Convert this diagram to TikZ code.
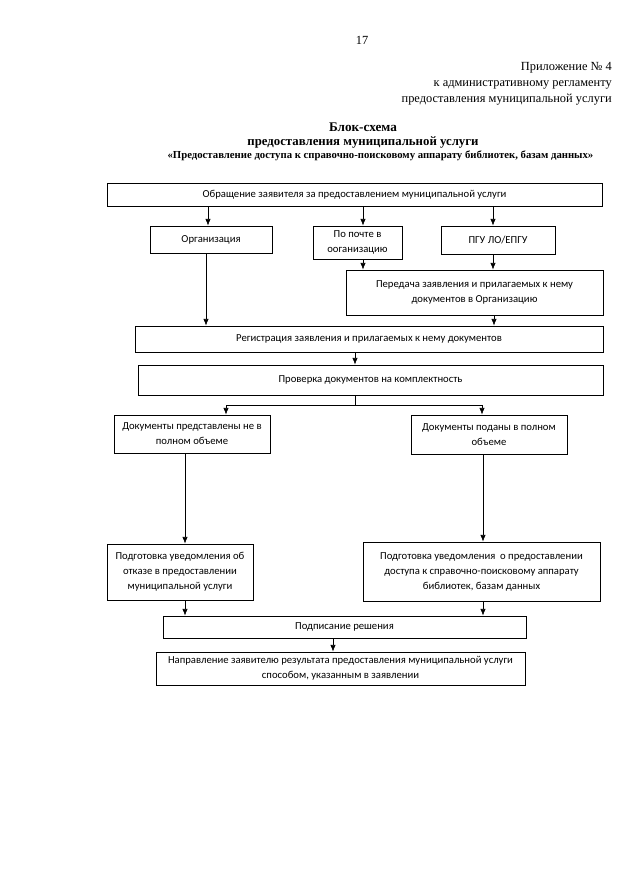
\documentclass[tikz,border=0pt]{standalone}
\usepackage{fontspec}
\setmainfont{Liberation Serif}
\newfontfamily\boxfont{Carlito}
\usetikzlibrary{arrows.meta}
\begin{document}
\begin{tikzpicture}[x=0.75pt,y=-0.75pt,
  bx/.style 2 args={draw=black, line width=0.6pt, inner sep=1pt, minimum width={#1*0.75pt}, minimum height={#2*0.75pt}, align=center, font=\boxfont\fontsize{8}{11.25}\selectfont},
  arr/.style={line width=0.5pt, -{Latex[length=5pt,width=4pt]}},
  ln/.style={line width=0.5pt},
  hdr/.style={font=\fontsize{9.3}{12}\selectfont, inner sep=0pt, anchor=base east}]
\useasboundingbox (0,0) rectangle (640,896);
\node[inner sep=0pt, anchor=base, font=\fontsize{9.3}{12}\selectfont] (pg) at (362,44) {17};
\node[hdr] (h1) at (612,70) {Приложение № 4};
\node[hdr] (h2) at (612,86) {к административному регламенту};
\node[hdr] (h3) at (612,102) {предоставления муниципальной услуги};
\node[inner sep=0pt, anchor=base, font=\bfseries\fontsize{9.9}{12}\selectfont] (t1) at (363,131) {Блок-схема};
\node[inner sep=0pt, anchor=base, font=\bfseries\fontsize{9.6}{12}\selectfont] (t2) at (363,145) {предоставления муниципальной услуги};
\node[inner sep=0pt, anchor=base, font=\bfseries\fontsize{8.05}{10}\selectfont] (t3) at (380.5,158.5) {«Предоставление доступа к справочно-поисковому аппарату библиотек, базам данных»};

\node[bx={495}{23}] (b1) at (354.5,194.5) {Обращение заявителя за предоставлением муниципальной услуги};
\node[bx={122}{27}] (org) at (211,239.5) {Организация};
\node[bx={89}{33}] (pocht) at (357.5,242.5) {По почте в\\ооганизацию};
\node[bx={114}{28}] (pgu) at (498,240) {ПГУ ЛО/ЕПГУ};
\node[bx={257}{45}] (pered) at (474.5,292.5) {Передача заявления и прилагаемых к нему\\документов в Организацию};
\node[bx={468}{26}] (reg) at (369,339) {Регистрация заявления и прилагаемых к нему документов};
\node[bx={465}{30}] (prov) at (370.5,380) {Проверка документов на комплектность};
\node[bx={156}{38}] (docne) at (192,434) {Документы представлены не в\\полном объеме};
\node[bx={156}{39}] (docpod) at (489,434.5) {Документы поданы в полном\\объеме};
\node[bx={146}{56}] (otk) at (180,572) {Подготовка уведомления об\\отказе в предоставлении\\муниципальной услуги};
\node[bx={237}{59}] (dost) at (481.5,571.5) {Подготовка уведомления~ о предоставлении\\доступа к справочно-поисковому аппарату\\библиотек, базам данных};
\node[bx={363}{22}] (podp) at (344.5,627) {Подписание решения};
\node[bx={369}{33}] (napr) at (340.5,668.5) {Направление заявителю результата предоставления муниципальной услуги\\способом, указанным в заявлении};

\coordinate (xa) at (208,0);
\coordinate (xb) at (363,0);
\coordinate (xc) at (493,0);
\coordinate (xd) at (206,0);
\coordinate (xe) at (494,0);
\coordinate (xf) at (355,0);
\coordinate (split) at (355,405);
\coordinate (jl) at (226,0);
\coordinate (jr) at (482,0);
\coordinate (xg) at (185,0);
\coordinate (xh) at (483,0);
\coordinate (xi) at (333,0);

\draw[arr] (b1.south -| xa) -- (org.north -| xa);
\draw[arr] (b1.south -| xb) -- (pocht.north -| xb);
\draw[arr] (b1.south -| xc) -- (pgu.north -| xc);
\draw[arr] (org.south -| xd) -- (reg.north -| xd);
\draw[arr] (pocht.south -| xb) -- (pered.north -| xb);
\draw[arr] (pgu.south -| xc) -- (pered.north -| xc);
\draw[arr] (pered.south -| xe) -- (reg.north -| xe);
\draw[arr] (reg.south -| xf) -- (prov.north -| xf);
\draw[ln] (prov.south -| xf) -- (split);
\draw[arr] (split) -| (docne.north -| jl);
\draw[arr] (split) -| (docpod.north -| jr);
\draw[arr] (docne.south -| xg) -- (otk.north -| xg);
\draw[arr] (docpod.south -| xh) -- (dost.north -| xh);
\draw[arr] (otk.south -| xg) -- (podp.north -| xg);
\draw[arr] (dost.south -| xh) -- (podp.north -| xh);
\draw[arr] (podp.south -| xi) -- (napr.north -| xi);
\end{tikzpicture}
\end{document}
